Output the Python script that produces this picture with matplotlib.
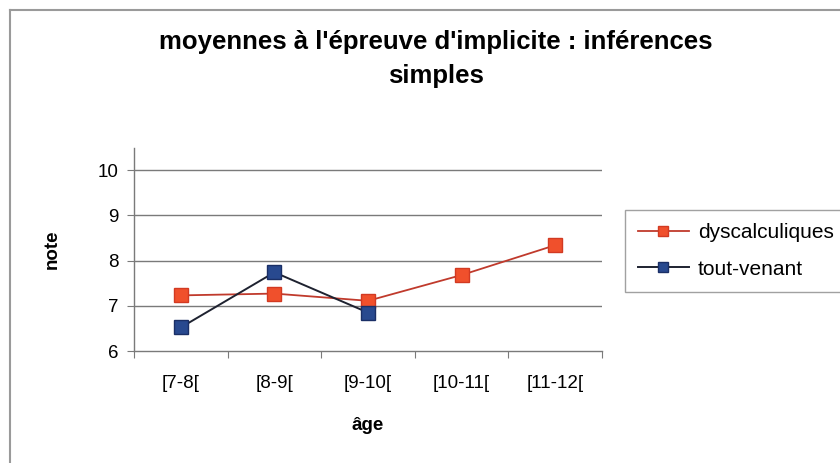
import matplotlib
matplotlib.use("Agg")
import matplotlib.pyplot as plt
import numpy as np

categories = ["[7-8[", "[8-9[", "[9-10[", "[10-11[", "[11-12["]
dyscalculiques = [7.23, 7.27, 7.11, 7.68, 8.34]
tout_venant = [6.52, 7.74, 6.85]
y_ticks = [6, 7, 8, 9, 10]

FONT = "Liberation Sans"

fig = plt.figure(figsize=(8.4, 4.63), dpi=100)
fig.patch.set_facecolor("white")

# outer chart frame (left and top edges visible)
fig.add_artist(plt.Line2D([9.5 / 840, 9.5 / 840], [0, 1 - 10 / 463], color="#9a9a9a", lw=1.5))
fig.add_artist(plt.Line2D([9.5 / 840, 1], [1 - 10 / 463, 1 - 10 / 463], color="#9a9a9a", lw=1.5))

ax = fig.add_axes([134 / 840, 1 - 351 / 463, (602 - 134) / 840, (351 - 148) / 463])
x = np.arange(len(categories))
ax.set_xlim(-0.5, len(categories) - 0.5)
ax.set_ylim(6, 10.49)

for v in y_ticks[1:]:
    ax.axhline(v, color="#7a7a7a", lw=1.0, zorder=0)

red_face = "#f0502c"
red_edge = "#d23a22"
blue_face = "#28498f"
blue_edge = "#1a2f66"

h1, = ax.plot(x, dyscalculiques, color="#c03a2c", lw=1.3, marker="s", ms=10,
              mfc=red_face, mec=red_edge, mew=1.0, zorder=3)
h2, = ax.plot(x[:len(tout_venant)], tout_venant, color="#1e2230", lw=1.4, marker="s", ms=10,
              mfc=blue_face, mec=blue_edge, mew=1.0, zorder=4)

for s in ["top", "right"]:
    ax.spines[s].set_visible(False)
for s in ["left", "bottom"]:
    ax.spines[s].set_color("#7a7a7a")
    ax.spines[s].set_linewidth(1.0)

ax.set_yticks(y_ticks)
ax.set_yticklabels([str(v) for v in y_ticks], fontsize=13.5, family=FONT)
ax.tick_params(axis="y", length=5, color="#7a7a7a", pad=6)

ax.set_xticks(np.arange(len(categories) + 1) - 0.5)
ax.set_xticklabels([])
ax.set_xticks(x, minor=True)
ax.set_xticklabels(categories, minor=True, fontsize=13.5, family=FONT)
ax.tick_params(axis="x", which="major", length=5, color="#7a7a7a")
ax.tick_params(axis="x", which="minor", length=0, pad=17)

ax.set_xlabel("âge", fontsize=13.5, fontweight="bold", family=FONT, labelpad=18)
ax.set_ylabel("note", fontsize=13.5, fontweight="bold", family=FONT, labelpad=27)

fig.text(436 / 840, 1 - 59 / 463, "moyennes à l'épreuve d'implicite : inférences\nsimples",
         ha="center", va="center", fontsize=18.5, fontweight="bold",
         family=FONT, linespacing=1.5)

leg = fig.legend(handles=[h1, h2], labels=["dyscalculiques", "tout-venant"],
                 loc="upper left", bbox_to_anchor=(625 / 840, 1 - 210 / 463),
                 frameon=True, fancybox=False, handlelength=2.45, markerscale=0.75,
                 handletextpad=0.42, borderpad=0.62, labelspacing=0.85,
                 borderaxespad=0, prop={"family": FONT, "size": 15})
leg.get_frame().set_edgecolor("#8a8a8a")
leg.get_frame().set_linewidth(1.0)

fig.savefig("out.png", dpi=100, facecolor="white")
